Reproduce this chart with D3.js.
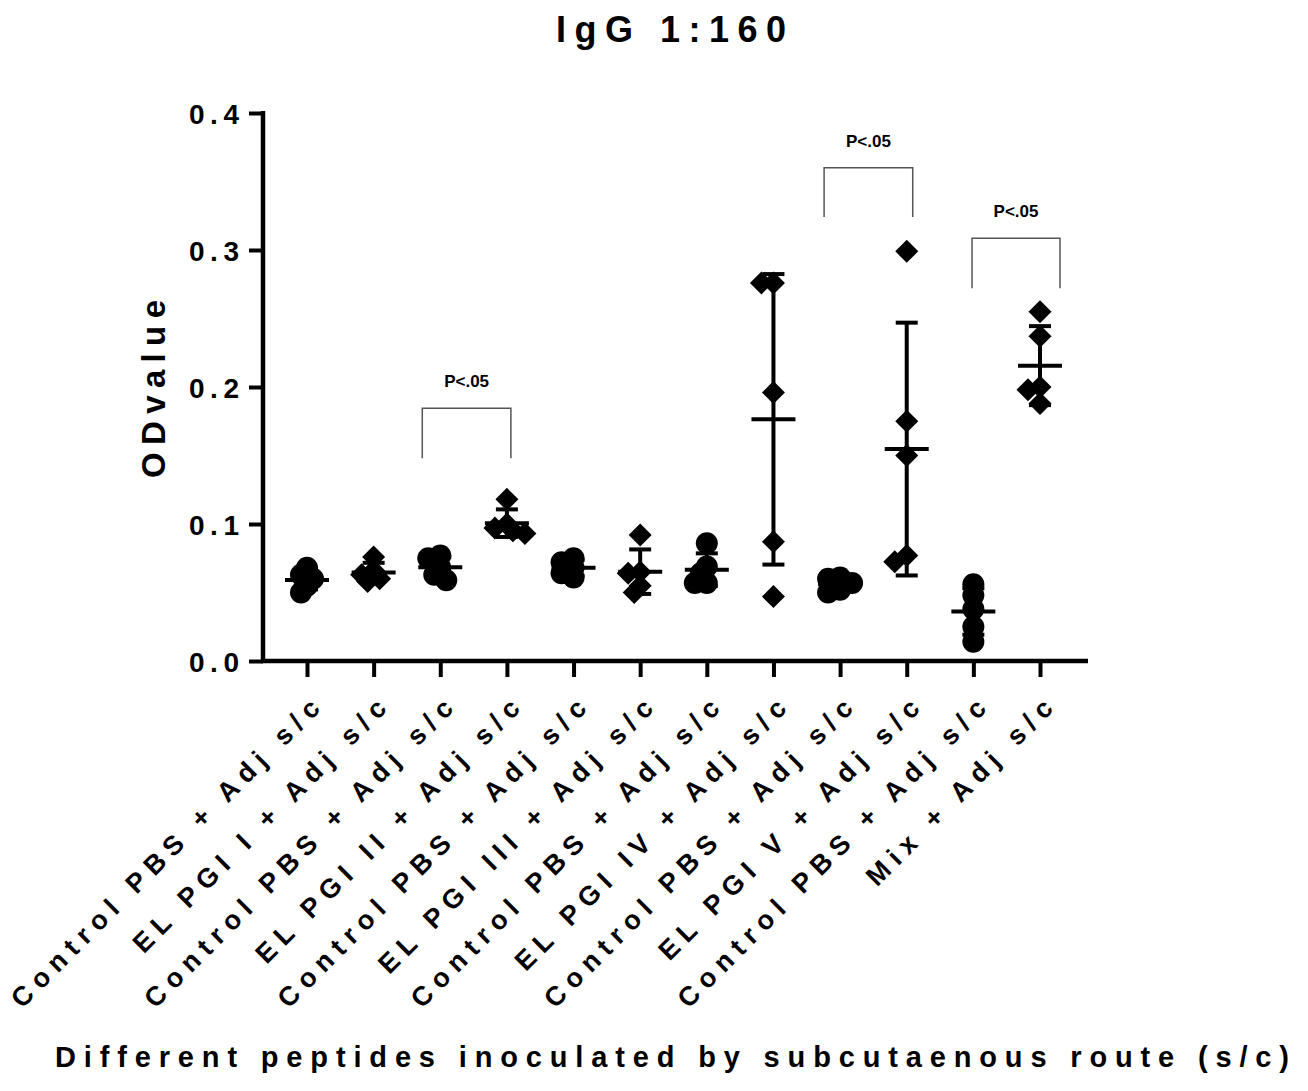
<!DOCTYPE html>
<html><head><meta charset="utf-8">
<script src="https://cdn.jsdelivr.net/npm/d3@7"></script>
<style>
html,body{margin:0;padding:0;background:#fff;}
svg{display:block;}
text{font-family:"Liberation Sans",Arial,sans-serif;font-weight:bold;fill:#000;}
</style></head>
<body>
<svg id="chart" width="1308" height="1091"></svg>
<script>
// ---------- data ----------
const title = "IgG 1:160";
const yLabel = "ODvalue";
const xTitle = "Different peptides inoculated by subcutaenous route (s/c)";
const categories = [
  "Control PBS + Adj s/c", "EL PGI I + Adj s/c",
  "Control PBS + Adj s/c ", "EL PGI II + Adj s/c",
  "Control PBS + Adj s/c  ", "EL PGI III + Adj s/c",
  "Control PBS + Adj s/c   ", "EL PGI IV + Adj s/c",
  "Control PBS + Adj s/c    ", "EL PGI V + Adj s/c",
  "Control PBS + Adj s/c     ", "Mix + Adj s/c"
];
const markerShapes = ["circle","diamond","circle","diamond","circle","diamond",
                      "circle","diamond","circle","diamond","circle","diamond"];
const control1 = [0.068, 0.063, 0.060, 0.055, 0.050];
const pgi1     = [0.076, 0.066, 0.063, 0.060, 0.058];
const control2 = [0.077, 0.075, 0.068, 0.063, 0.059];
const pgi2     = [0.118, 0.100, 0.097, 0.095, 0.093];
const control3 = [0.075, 0.072, 0.068, 0.064, 0.061];
const pgi3     = [0.092, 0.065, 0.064, 0.055, 0.050];
const control4 = [0.086, 0.069, 0.064, 0.057, 0.057];
const pgi4     = [0.276, 0.276, 0.196, 0.087, 0.047];
const control5 = [0.061, 0.060, 0.057, 0.052, 0.050];
const pgi5     = [0.299, 0.175, 0.150, 0.077, 0.0725];
const control6 = [0.056, 0.048, 0.038, 0.025, 0.014];
const mix      = [0.255, 0.237, 0.200, 0.198, 0.188];
const groupValues = [control1,pgi1,control2,pgi2,control3,pgi3,control4,pgi4,control5,pgi5,control6,mix];
const yTicks = [0, 0.1, 0.2, 0.3, 0.4];
// significance brackets (x in category-index units, y in OD units)
const brackets = [
  {x0: 1.73, x1: 3.06, top: 0.1845, bottom: 0.148, label: "P<.05"},
  {x0: 7.76, x1: 9.09, top: 0.360, bottom: 0.324, label: "P<.05"},
  {x0: 9.98, x1: 11.30, top: 0.3085, bottom: 0.272, label: "P<.05"}
];

// ---------- chart ----------
const svg = d3.select("#chart");
const x = d3.scalePoint().domain(categories).range([307, 1040]);
const xi = d3.scaleLinear().domain([0, categories.length - 1]).range([307, 1040]);
const y = d3.scaleLinear().domain([0, 0.4]).range([661, 113]);

// title
svg.append("text").attr("x", 671).attr("y", 42).attr("text-anchor","middle")
  .attr("font-size", 36).attr("textLength", 230).attr("lengthAdjust","spacing").text(title);

// y axis
const yAxis = svg.append("g").attr("transform","translate(263,0)")
  .call(d3.axisLeft(y).tickValues(yTicks).tickFormat(d3.format(".1f")).tickSize(14).tickPadding(10));
yAxis.select(".domain").attr("stroke","#000").attr("stroke-width",4.5)
  .attr("d", `M0,${y(0.4)-2}V${y(0)}`);
yAxis.selectAll(".tick line").attr("stroke","#000").attr("stroke-width",4);
yAxis.selectAll(".tick text").attr("font-size",28).attr("letter-spacing","0.2em")
  .attr("font-family","Liberation Sans, Arial, sans-serif").attr("font-weight","bold")
  .attr("fill","#000").attr("dy","0.36em").attr("dx","0.2em");

// x axis
const xAxis = svg.append("g").attr("transform","translate(0,661)")
  .call(d3.axisBottom(x).tickSize(16).tickFormat(d => d.trim()));
xAxis.select(".domain").attr("stroke","#000").attr("stroke-width",4.5)
  .attr("d", `M261,0H1088`);
xAxis.selectAll(".tick line").attr("stroke","#000").attr("stroke-width",4);
xAxis.selectAll(".tick text")
  .attr("font-size",27).attr("letter-spacing","7.3px")
  .attr("font-family","Liberation Sans, Arial, sans-serif").attr("font-weight","bold")
  .attr("fill","#000").attr("text-anchor","end").attr("dy",0).attr("y",0)
  .attr("transform","translate(19,44) rotate(-45)");

// y label
svg.append("text").attr("transform","translate(165,389) rotate(-90)")
  .attr("text-anchor","middle").attr("font-size",33)
  .attr("textLength",178).attr("lengthAdjust","spacing").text(yLabel);

// x title
svg.append("text").attr("x", 672).attr("y", 1067).attr("text-anchor","middle")
  .attr("font-size",29).attr("textLength",1234).attr("lengthAdjust","spacing").text(xTitle);

// ---------- points with dodge ----------
const R = 11, step = 6, minDist = 9;
function dodge(vals){
  const placed = [];
  const order = vals.map((v,i)=>({v,i})).sort((a,b)=>b.v-a.v);
  const out = new Array(vals.length);
  order.forEach(p => {
    const py = y(p.v);
    const cands = [0];
    for (let k=1;k<8;k++){ cands.push(-k*step, k*step); }
    let chosen = 0;
    for (const c of cands){
      const ok = placed.every(q => Math.hypot(q.dx - c, q.py - py) >= minDist);
      if (ok){ chosen = c; break; }
    }
    placed.push({dx: chosen, py});
    out[p.i] = chosen;
  });
  return out;
}
const diamond = `M0,${-R-0.5}L${R+0.5},0L0,${R+0.5}L${-R-0.5},0Z`;
const gPts = svg.append("g");
categories.forEach((cat, gi) => {
  const vals = groupValues[gi];
  const cx = x(cat);
  const offs = dodge(vals);
  vals.forEach((v, i) => {
    if (markerShapes[gi] === "circle"){
      gPts.append("circle").attr("cx", cx + offs[i]).attr("cy", y(v)).attr("r", R).attr("fill","#000");
    } else {
      gPts.append("path").attr("d", diamond)
        .attr("transform", `translate(${cx + offs[i]},${y(v)})`).attr("fill","#000");
    }
  });
  const m = d3.mean(vals), sd = d3.deviation(vals);
  const g = svg.append("g").attr("stroke","#000").attr("stroke-width",4);
  g.append("line").attr("x1",cx).attr("x2",cx).attr("y1",y(m+sd)).attr("y2",y(m-sd));
  g.append("line").attr("x1",cx-11).attr("x2",cx+11).attr("y1",y(m+sd)).attr("y2",y(m+sd));
  g.append("line").attr("x1",cx-11).attr("x2",cx+11).attr("y1",y(m-sd)).attr("y2",y(m-sd));
  g.append("line").attr("x1",cx-22).attr("x2",cx+22).attr("y1",y(m)).attr("y2",y(m));
});

// brackets
brackets.forEach(b => {
  const x0 = xi(b.x0), x1 = xi(b.x1);
  svg.append("path")
    .attr("d", `M${x0},${y(b.bottom)}V${y(b.top)}H${x1}V${y(b.bottom)}`)
    .attr("fill","none").attr("stroke","#555").attr("stroke-width",1.5);
  svg.append("text").attr("x", (x0+x1)/2).attr("y", y(b.top) - 21)
    .attr("text-anchor","middle").attr("font-size",17)
    .attr("font-family","Open Sans, sans-serif").attr("font-weight","bold").text(b.label);
});
</script>
</body></html>
